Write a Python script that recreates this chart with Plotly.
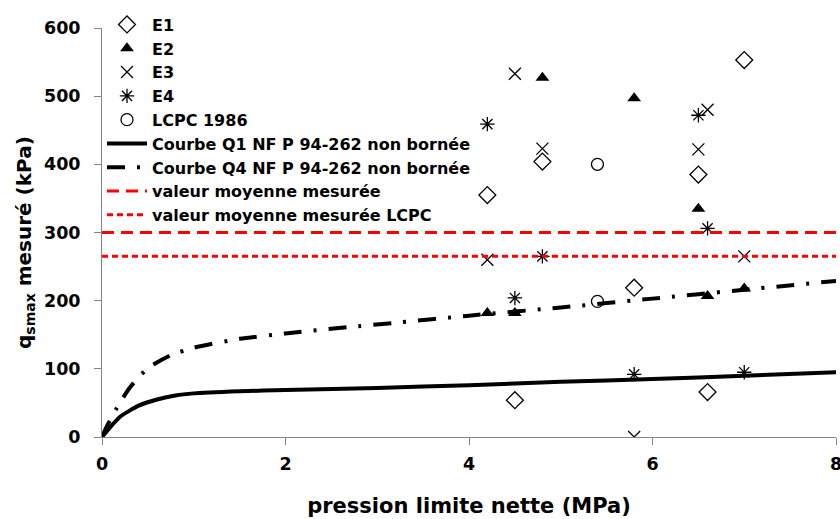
import plotly.graph_objects as go

# ---- data ----
e1_x = [4.2, 4.5, 4.8, 5.8, 6.5, 6.6, 7.0]
e1_y = [355, 54, 404, 219, 385, 66, 553]

e2_x = [4.2, 4.5, 4.8, 5.8, 6.5, 6.6, 7.0]
e2_y = [182, 182, 527, 497, 335, 207, 218]

e3_x = [4.2, 4.5, 4.8, 5.8, 6.5, 6.6, 7.0]
e3_y = [260, 533, 423, 0, 422, 480, 265]

e4_x = [4.2, 4.5, 4.8, 5.8, 6.5, 6.6, 7.0]
e4_y = [459, 204, 265, 92, 472, 306, 95]

lcpc_x = [5.4, 5.4]
lcpc_y = [400, 199]

q1_x = [0, 0.1, 0.2, 0.4, 0.6, 0.8, 1.0, 1.5, 2, 3, 4, 5, 6, 7, 8]
q1_y = [0, 16, 30, 46, 55, 61, 64, 67, 69, 72, 76, 81, 85, 90, 95]

q4_x = [0, 0.05, 0.16, 0.3, 0.5, 0.75, 1.0, 1.5, 2, 2.67, 3.23, 4, 5, 6, 7, 8]
q4_y = [0, 15, 42, 72, 101, 120, 131, 144, 152, 161, 168, 178, 190, 203, 216, 229]

mean_x = [0, 8]
mean_measured = [300, 300]
mean_lcpc = [265, 265]

x_ticks = [0, 2, 4, 6, 8]
y_ticks = [0, 100, 200, 300, 400, 500, 600]

FONT = "DejaVu Sans"
BLACK = "black"

fig = go.Figure()

mk_line = dict(color=BLACK, width=1.3)
series = [
    dict(x=e1_x, y=e1_y, mode="markers", name="E1",
         marker=dict(symbol="diamond-open", size=13, color=BLACK, line=mk_line)),
    dict(x=e2_x, y=e2_y, mode="markers", name="E2",
         marker=dict(symbol="triangle-up", size=12, color=BLACK)),
    dict(x=e3_x, y=e3_y, mode="markers", name="E3",
         marker=dict(symbol="x-thin-open", size=12, color=BLACK, line=mk_line)),
    dict(x=e4_x, y=e4_y, mode="markers", name="E4",
         marker=dict(symbol="asterisk-open", size=12, color=BLACK, line=mk_line)),
    dict(x=lcpc_x, y=lcpc_y, mode="markers", name="LCPC 1986",
         marker=dict(symbol="circle-open", size=12, color=BLACK, line=mk_line)),
    dict(x=q1_x, y=q1_y, mode="lines", name="Courbe Q1 NF P 94-262 non bornée",
         line=dict(color=BLACK, width=4, shape="spline", smoothing=0.6)),
    dict(x=q4_x, y=q4_y, mode="lines", name="Courbe Q4 NF P 94-262 non bornée",
         line=dict(color=BLACK, width=4, dash="18px,12px,3px,12px", shape="spline", smoothing=0.6)),
    dict(x=mean_x, y=mean_measured, mode="lines", name="valeur moyenne mesurée",
         line=dict(color="#FF0000", width=3, dash="12px,7px")),
    dict(x=mean_x, y=mean_lcpc, mode="lines", name="valeur moyenne mesurée LCPC",
         line=dict(color="#FF0000", width=3, dash="6px,4px")),
]
for s in series:
    fig.add_trace(go.Scatter(**s))

axis_common = dict(
    showline=True, linecolor="#868686", linewidth=1,
    ticks="outside", ticklen=7, tickcolor="#868686",
    showgrid=False, zeroline=False, automargin=False,
    ticklabeloverflow="allow",
    tickfont=dict(family=FONT, size=17.5, color=BLACK, weight="bold"),
)

fig.update_layout(
    width=840, height=519,
    margin=dict(l=102, r=4, t=28, b=82, autoexpand=False),
    paper_bgcolor="white", plot_bgcolor="white",
    font=dict(family=FONT, color=BLACK),
    showlegend=True,
    legend=dict(
        x=0.0, y=1.05, xanchor="left", yanchor="top",
        bgcolor="rgba(0,0,0,0)", borderwidth=0,
        font=dict(family=FONT, size=16, color=BLACK, weight="bold"),
        tracegroupgap=0, itemwidth=40,
    ),
    xaxis=dict(range=[0, 8], tickvals=x_ticks, ticklabelstandoff=4,
               title=dict(text="pression limite nette (MPa)", standoff=25,
                          font=dict(family=FONT, size=21, color=BLACK, weight="bold")),
               **axis_common),
    yaxis=dict(range=[0, 600], tickvals=y_ticks, ticklabelstandoff=10, **axis_common),
    annotations=[dict(
        text="q<sub>smax</sub> mesuré (kPa)", textangle=-90,
        xref="paper", yref="paper", x=0, y=0.4743, xanchor="center", yanchor="middle",
        xshift=-77, showarrow=False,
        font=dict(family=FONT, size=20, color=BLACK, weight="bold"),
    )],
)

fig.write_html("out.html", config={"displayModeBar": False},
               post_script="document.body.style.margin='0px';")
